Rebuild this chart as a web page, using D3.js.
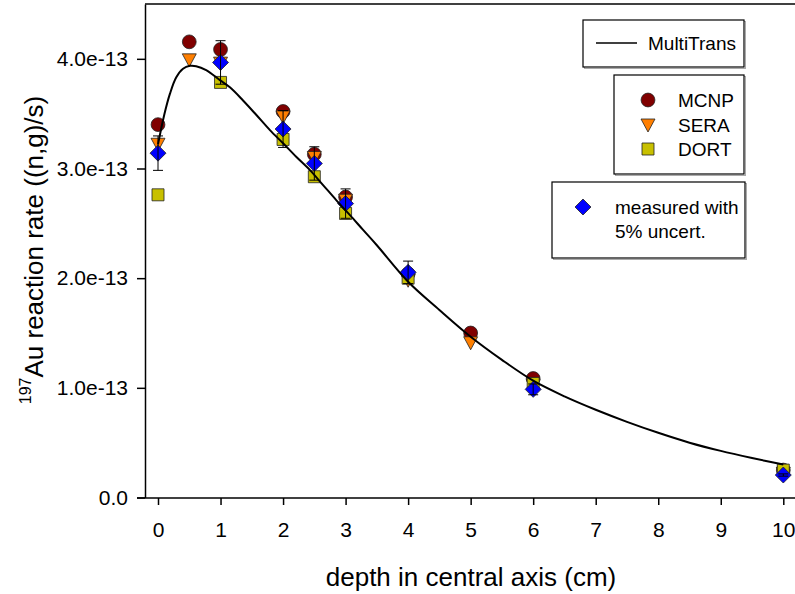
<!DOCTYPE html>
<html>
<head>
<meta charset="utf-8">
<script src="https://cdn.jsdelivr.net/npm/d3@7"></script>
<style>
  html, body { margin: 0; padding: 0; background: #fff; }
  svg { display: block; font-family: "Liberation Sans", Arial, sans-serif; }
  .axis path, .axis line { stroke: #000; stroke-width: 1.5; }
  .axis text { fill: #000; }
</style>
</head>
<body>
<div id="chart"></div>
<script>
// values in units of 1e-13 (n,g)/s
var depths = [0, 1, 2, 2.5, 3, 4, 6, 10];
var mcnpX = [0, 0.5, 1, 2, 2.5, 3, 4, 5, 6, 10];
var mcnpY = [3.40, 4.155, 4.085, 3.52, 3.13, 2.74, 2.04, 1.50, 1.085, 0.25];
var seraX = [0, 0.5, 1, 2, 2.5, 3, 4, 5, 6, 10];
var seraY = [3.23, 4.00, 3.97, 3.48, 3.11, 2.72, 1.99, 1.42, 1.03, 0.23];
var dortX = [0, 1, 2, 2.5, 3, 4, 6, 10];
var dortY = [2.76, 3.785, 3.265, 2.925, 2.59, 2.00, 1.04, 0.25];
var measY = [3.14, 3.967, 3.36, 3.046, 2.68, 2.053, 0.986, 0.205];
var measUncert = 0.05;

// MultiTrans curve
var mtX = [0, 0.1, 0.19, 0.29, 0.40, 0.51, 0.61, 0.77, 0.99, 1.15, 1.36, 1.57, 1.79, 2.0, 2.21, 2.43, 2.64, 2.85, 3.07, 3.28, 3.5, 4.0, 4.5, 5.0, 5.5, 6.0, 6.5, 7.0, 7.5, 8.0, 8.5, 9.0, 9.5, 10.0];
var mtY = [3.22, 3.49, 3.68, 3.83, 3.91, 3.936, 3.933, 3.897, 3.806, 3.74, 3.62, 3.49, 3.35, 3.23, 3.107, 2.985, 2.849, 2.712, 2.575, 2.44, 2.30, 1.967, 1.71, 1.466, 1.255, 1.065, 0.922, 0.80, 0.69, 0.59, 0.50, 0.425, 0.36, 0.30];

var xTicks = [0, 1, 2, 3, 4, 5, 6, 7, 8, 9, 10];
var yTicks = [0, 1, 2, 3, 4];

var W = 795, H = 594;
var svg = d3.select('#chart').append('svg').attr('width', W).attr('height', H);

var x = d3.scaleLinear().domain([-0.2, 10.2]).range([145.5, 795.8]);
var y = d3.scaleLinear().domain([0, 4.5]).range([497.5, 4]);

// frame top
svg.append('line').attr('x1', 145).attr('x2', 797).attr('y1', 4).attr('y2', 4)
  .attr('stroke', '#000').attr('stroke-width', 1.5);

var yAxis = svg.append('g').attr('class', 'axis').attr('transform', 'translate(145,0)')
  .call(d3.axisLeft(y).tickValues(yTicks).tickSize(8).tickPadding(9).tickSizeOuter(0)
    .tickFormat(function (d) { return d === 0 ? '0.0' : d.toFixed(1) + 'e-13'; }));
yAxis.selectAll('text').style('font-size', '21px');

var xAxis = svg.append('g').attr('class', 'axis').attr('transform', 'translate(0,498)')
  .call(d3.axisBottom(x).tickValues(xTicks).tickSize(7).tickPadding(17).tickSizeOuter(0)
    .tickFormat(d3.format('d')));
xAxis.selectAll('text').style('font-size', '21px');
xAxis.select('.domain').attr('d', 'M137,0H797');

// axis titles
svg.append('text').attr('x', 471).attr('y', 586).attr('text-anchor', 'middle')
  .style('font-size', '26px').text('depth in central axis (cm)');

var yl = svg.append('text').attr('transform', 'translate(38,250) rotate(-90)')
  .attr('text-anchor', 'middle').style('font-size', '26px');
yl.append('tspan').attr('dy', '-0.45em').style('font-size', '16px').text('197');
yl.append('tspan').attr('dy', '0.45em').text('Au reaction rate ((n,g)/s)');

// marker shapes
var circleSym = d3.symbol().type(d3.symbolCircle).size(150);
function triDown(cx, cy) {
  return 'M' + (cx - 7) + ',' + (cy - 5) + 'L' + (cx + 7) + ',' + (cy - 5) + 'L' + cx + ',' + (cy + 8) + 'Z';
}
function square(cx, cy) { return 'M' + (cx - 6) + ',' + (cy - 6) + 'h12v12h-12Z'; }
function diamond(cx, cy) {
  return 'M' + cx + ',' + (cy - 8) + 'L' + (cx + 8) + ',' + cy + 'L' + cx + ',' + (cy + 8) + 'L' + (cx - 8) + ',' + cy + 'Z';
}

var marks = svg.append('g').attr('stroke', '#222').attr('stroke-width', 0.8);

marks.selectAll('path.mcnp').data(mcnpX).join('path').attr('class', 'mcnp')
  .attr('transform', function (d, i) { return 'translate(' + x(d) + ',' + y(mcnpY[i]) + ')'; })
  .attr('d', circleSym).attr('fill', '#800000');

marks.selectAll('path.sera').data(seraX).join('path').attr('class', 'sera')
  .attr('d', function (d, i) { return triDown(x(d), y(seraY[i])); }).attr('fill', '#ff7f00');

marks.selectAll('path.dort').data(dortX).join('path').attr('class', 'dort')
  .attr('d', function (d, i) { return square(x(d), y(dortY[i])); }).attr('fill', '#c8c000');

// error bars on measured
var eb = svg.append('g').attr('stroke', '#000').attr('stroke-width', 1);
depths.forEach(function (d, i) {
  var cx = x(d), lo = y(measY[i] * (1 - measUncert)), hi = y(measY[i] * (1 + measUncert));
  eb.append('line').attr('x1', cx).attr('x2', cx).attr('y1', lo).attr('y2', hi);
  eb.append('line').attr('x1', cx - 5).attr('x2', cx + 5).attr('y1', lo).attr('y2', lo);
  eb.append('line').attr('x1', cx - 5).attr('x2', cx + 5).attr('y1', hi).attr('y2', hi);
});

marks.append('g').selectAll('path').data(depths).join('path')
  .attr('d', function (d, i) { return diamond(x(d), y(measY[i])); }).attr('fill', '#0000ff');

// MultiTrans curve
var line = d3.line().x(function (d) { return x(d[0]); }).y(function (d) { return y(d[1]); })
  .curve(d3.curveCatmullRom.alpha(0.5));
svg.append('path').datum(mtX.map(function (d, i) { return [d, mtY[i]]; }))
  .attr('d', line).attr('fill', 'none').attr('stroke', '#000').attr('stroke-width', 2);

// legends
var lg = svg.append('g').style('font-size', '19px');
function box(x0, y0, w, h) {
  lg.append('rect').attr('x', x0 + 1.5).attr('y', y0 + 1.5).attr('width', w).attr('height', h)
    .attr('fill', 'none').attr('stroke', '#aaa').attr('stroke-width', 1);
  lg.append('rect').attr('x', x0).attr('y', y0).attr('width', w).attr('height', h)
    .attr('fill', '#fff').attr('stroke', '#000').attr('stroke-width', 1.2);
}
box(583, 20, 161, 47);
lg.append('line').attr('x1', 596).attr('x2', 637).attr('y1', 43).attr('y2', 43)
  .attr('stroke', '#000').attr('stroke-width', 1.5);
lg.append('text').attr('x', 648).attr('y', 50).text('MultiTrans');

box(614, 75, 130, 99);
lg.append('path').attr('transform', 'translate(648,100)').attr('d', circleSym)
  .attr('fill', '#800000').attr('stroke', '#222').attr('stroke-width', 0.8);
lg.append('path').attr('d', triDown(648, 124)).attr('fill', '#ff7f00').attr('stroke', '#222').attr('stroke-width', 0.8);
lg.append('path').attr('d', square(648, 149)).attr('fill', '#c8c000').attr('stroke', '#222').attr('stroke-width', 0.8);
lg.append('text').attr('x', 678).attr('y', 107).text('MCNP');
lg.append('text').attr('x', 678).attr('y', 132).text('SERA');
lg.append('text').attr('x', 678).attr('y', 156).text('DORT');

box(552, 182, 193, 76);
lg.append('path').attr('d', diamond(583, 207)).attr('fill', '#0000ff').attr('stroke', '#222').attr('stroke-width', 0.8);
lg.append('text').attr('x', 615).attr('y', 214).text('measured with');
lg.append('text').attr('x', 615).attr('y', 238).text('5% uncert.');
</script>
</body>
</html>
